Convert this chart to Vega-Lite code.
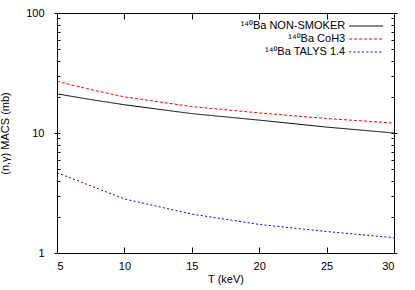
{
  "$schema": "https://vega.github.io/schema/vega-lite/v6.json",
  "width": 337,
  "height": 240,
  "autosize": "none",
  "padding": {"left": 57, "top": 13, "right": 21, "bottom": 37},
  "background": "white",
  "config": {
    "view": {"stroke": "black", "strokeWidth": 1},
    "font": "Liberation Sans",
    "axis": {
      "grid": false,
      "domain": false,
      "labelColor": "black",
      "titleColor": "black",
      "labelFontSize": 11,
      "titleFontSize": 11,
      "titleFontWeight": "normal"
    }
  },
  "data": {
    "values": [
      {"T": 5, "model": "NON-SMOKER", "macs": 21.2},
      {"T": 7.5, "model": "NON-SMOKER", "macs": 19.0},
      {"T": 10, "model": "NON-SMOKER", "macs": 17.2},
      {"T": 15, "model": "NON-SMOKER", "macs": 14.5},
      {"T": 20, "model": "NON-SMOKER", "macs": 12.8},
      {"T": 25, "model": "NON-SMOKER", "macs": 11.2},
      {"T": 30, "model": "NON-SMOKER", "macs": 10.0},
      {"T": 5, "model": "CoH3", "macs": 27.0},
      {"T": 7.5, "model": "CoH3", "macs": 23.0},
      {"T": 10, "model": "CoH3", "macs": 20.0},
      {"T": 15, "model": "CoH3", "macs": 16.6},
      {"T": 20, "model": "CoH3", "macs": 14.7},
      {"T": 25, "model": "CoH3", "macs": 13.2},
      {"T": 30, "model": "CoH3", "macs": 12.1},
      {"T": 5, "model": "TALYS 1.4", "macs": 4.67},
      {"T": 10, "model": "TALYS 1.4", "macs": 2.82},
      {"T": 15, "model": "TALYS 1.4", "macs": 2.11},
      {"T": 20, "model": "TALYS 1.4", "macs": 1.73},
      {"T": 25, "model": "TALYS 1.4", "macs": 1.51},
      {"T": 30, "model": "TALYS 1.4", "macs": 1.34}
    ]
  },
  "layer": [
    {
      "mark": {"type": "line", "strokeWidth": 1},
      "encoding": {
        "x": {
          "field": "T", "type": "quantitative",
          "scale": {"domain": [5, 30], "nice": false, "zero": false},
          "axis": {
            "orient": "bottom",
            "values": [5, 10, 15, 20, 25, 30],
            "offset": -6,
            "ticks": true,
            "tickSize": 6,
            "tickWidth": 1,
            "tickColor": "black",
            "labelPadding": 7,
            "title": "T (keV)",
            "titlePadding": 2
          }
        },
        "y": {
          "field": "macs", "type": "quantitative",
          "scale": {"type": "log", "domain": [1, 100], "nice": false},
          "axis": {
            "orient": "left",
            "labelExpr": "datum.value == 1 || datum.value == 10 || datum.value == 100 ? datum.label : ''",
            "offset": -3,
            "ticks": true,
            "tickSize": {"condition": {"test": "datum.value == 1 || datum.value == 10 || datum.value == 100", "value": 6}, "value": 3},
            "tickWidth": 1,
            "tickColor": "black",
            "labelPadding": 10,
            "title": "(n,γ) MACS (mb)",
            "titlePadding": 15
          }
        },
        "color": {
          "field": "model", "type": "nominal",
          "scale": {"domain": ["NON-SMOKER", "CoH3", "TALYS 1.4"], "range": ["#000000", "#ff0000", "#0000ff"]},
          "legend": {
            "title": null,
            "orient": "none",
            "legendX": 303.6,
            "legendY": 7.5,
            "padding": 0,
            "symbolType": "M-5,0H5",
            "symbolSize": 46,
            "symbolStrokeWidth": 1,
            "labelAlign": "right",
            "labelOffset": -26.4,
            "labelFontSize": 11,
            "labelFont": "Liberation Sans, Noto Sans",
            "labelColor": "black",
            "labelLimit": 300,
            "rowPadding": 1,
            "labelExpr": "'¹⁴⁰Ba ' + datum.label"
          }
        },
        "strokeDash": {
          "field": "model", "type": "nominal",
          "scale": {"domain": ["NON-SMOKER", "CoH3", "TALYS 1.4"], "range": [[1, 0], [3, 2], [2, 2.3]]},
          "legend": {
            "title": null,
            "orient": "none",
            "legendX": 303.6,
            "legendY": 7.5,
            "padding": 0,
            "symbolType": "M-5,0H5",
            "symbolSize": 46,
            "symbolStrokeWidth": 1,
            "labelAlign": "right",
            "labelOffset": -26.4,
            "labelFontSize": 11,
            "labelFont": "Liberation Sans, Noto Sans",
            "labelColor": "black",
            "labelLimit": 300,
            "rowPadding": 1,
            "labelExpr": "'¹⁴⁰Ba ' + datum.label"
          }
        }
      }
    },
    {
      "mark": {"type": "line", "opacity": 0},
      "encoding": {
        "x": {
          "field": "T", "type": "quantitative",
          "axis": {
            "orient": "top",
            "values": [5, 10, 15, 20, 25, 30],
            "offset": -6,
            "ticks": true,
            "tickSize": 6,
            "tickWidth": 1,
            "tickColor": "black",
            "labels": false,
            "title": null
          }
        },
        "y": {
          "field": "macs", "type": "quantitative",
          "axis": {
            "orient": "right",
            "offset": -3,
            "ticks": true,
            "tickSize": {"condition": {"test": "datum.value == 1 || datum.value == 10 || datum.value == 100", "value": 6}, "value": 3},
            "tickWidth": 1,
            "tickColor": "black",
            "labels": false,
            "title": null
          }
        },
        "detail": {"field": "model", "type": "nominal"}
      }
    }
  ],
  "resolve": {"axis": {"x": "independent", "y": "independent"}}
}
